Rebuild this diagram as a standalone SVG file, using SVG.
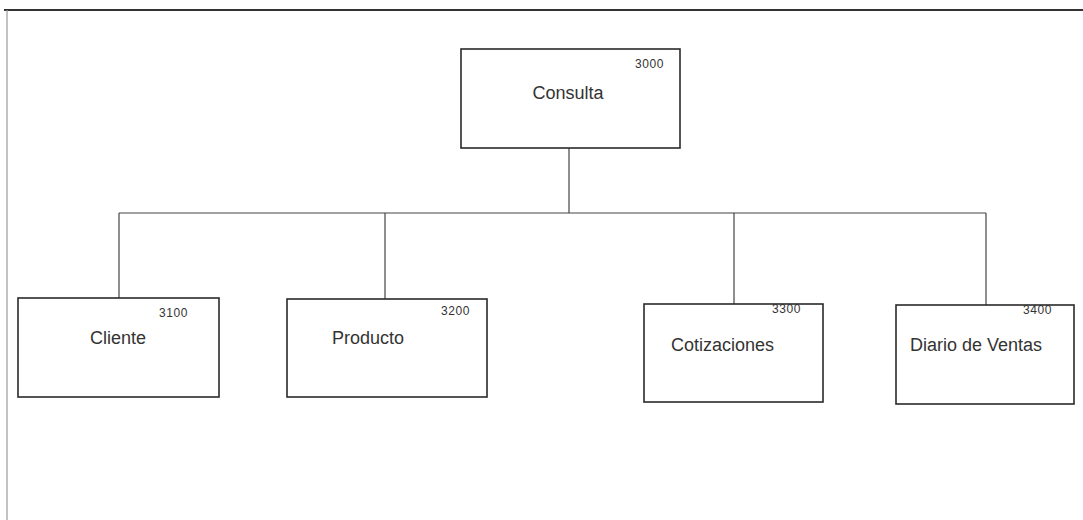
<svg xmlns="http://www.w3.org/2000/svg" width="1083" height="520" viewBox="0 0 1083 520">
<style>
.box{fill:#fff;stroke:#2a2a2a;stroke-width:1.6}
.lbl{font-family:"Liberation Sans",Arial,sans-serif;font-size:18px;fill:#333}
.num{font-family:"Liberation Sans",Arial,sans-serif;font-size:12px;fill:#333;letter-spacing:0.6px}
.con{stroke:#444;stroke-width:1.2;fill:none}
</style>
<rect width="1083" height="520" fill="#fff"/>
<g id="frame">
<line x1="4" y1="10" x2="1083" y2="10" stroke="#333" stroke-width="2"/>
<line x1="7" y1="10" x2="7" y2="520" stroke="#999" stroke-width="1.2"/>
</g>
<g id="connectors">
<line class="con" x1="569" y1="148" x2="569" y2="213"/>
<line class="con" x1="119" y1="213" x2="986" y2="213"/>
<line class="con" x1="119" y1="213" x2="119" y2="298"/>
<line class="con" x1="385" y1="213" x2="385" y2="299"/>
<line class="con" x1="734" y1="213" x2="734" y2="304"/>
<line class="con" x1="986" y1="213" x2="986" y2="305"/>
</g>
<g id="n3000">
<rect class="box" x="461" y="49" width="219" height="99"/>
<text class="num" x="635" y="68">3000</text>
<text class="lbl" x="568" y="99" text-anchor="middle">Consulta</text>
</g>
<g id="n3100">
<rect class="box" x="18" y="298" width="201" height="99"/>
<text class="num" x="159" y="317">3100</text>
<text class="lbl" x="90" y="344">Cliente</text>
</g>
<g id="n3200">
<rect class="box" x="287" y="299" width="200" height="98"/>
<text class="num" x="441" y="315">3200</text>
<text class="lbl" x="332" y="344">Producto</text>
</g>
<g id="n3300">
<rect class="box" x="644" y="304" width="179" height="98"/>
<text class="num" x="772" y="313">3300</text>
<text class="lbl" x="671" y="351">Cotizaciones</text>
</g>
<g id="n3400">
<rect class="box" x="896" y="305" width="178" height="99"/>
<text class="num" x="1023" y="314">3400</text>
<text class="lbl" x="910" y="351">Diario de Ventas</text>
</g>
</svg>
